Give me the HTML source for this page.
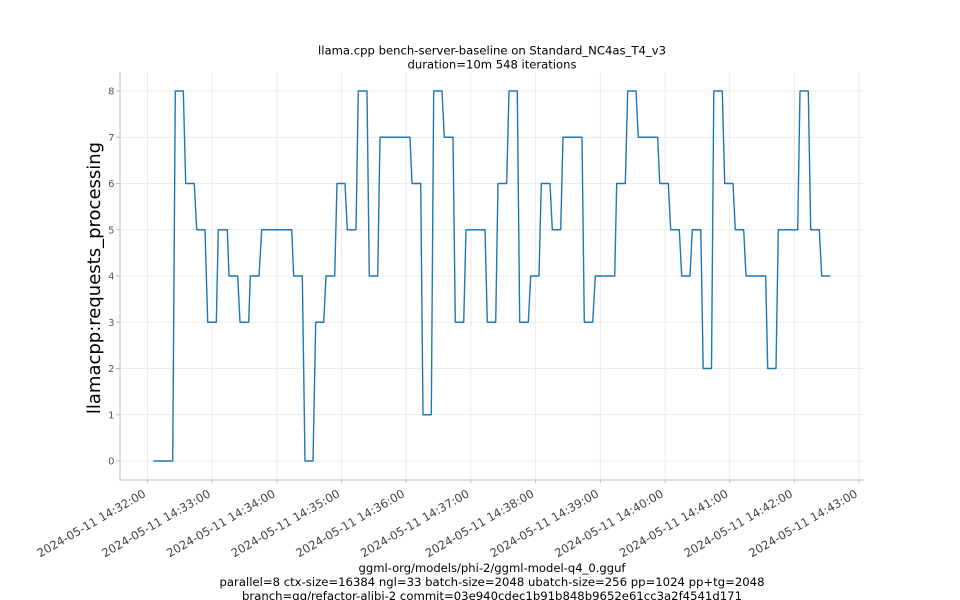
<!DOCTYPE html>
<html>
<head>
<meta charset="utf-8">
<style>
  html, body { margin: 0; padding: 0; background: #ffffff; }
  body { width: 960px; height: 600px; overflow: hidden; }
  svg { display: block; }
  text { font-family: "DejaVu Sans", "Liberation Sans", sans-serif; }
</style>
</head>
<body>
<svg width="960" height="600" viewBox="0 0 960 600" xmlns="http://www.w3.org/2000/svg">
  <rect x="0" y="0" width="960" height="600" fill="#ffffff"/>

  <!-- Title -->
  <text x="492" y="54.5" font-size="11.6" text-anchor="middle" fill="#000" textLength="348" lengthAdjust="spacingAndGlyphs">llama.cpp bench-server-baseline on Standard_NC4as_T4_v3</text>
  <text x="492" y="68.5" font-size="11.6" text-anchor="middle" fill="#000" textLength="169" lengthAdjust="spacingAndGlyphs">duration=10m 548 iterations</text>

  <!-- Horizontal grid -->
  <g stroke="#e6e6e6" stroke-width="0.8">
    <line x1="120" y1="461" x2="864" y2="461"/>
    <line x1="120" y1="414.75" x2="864" y2="414.75"/>
    <line x1="120" y1="368.5" x2="864" y2="368.5"/>
    <line x1="120" y1="322.25" x2="864" y2="322.25"/>
    <line x1="120" y1="276" x2="864" y2="276"/>
    <line x1="120" y1="229.75" x2="864" y2="229.75"/>
    <line x1="120" y1="183.5" x2="864" y2="183.5"/>
    <line x1="120" y1="137.25" x2="864" y2="137.25"/>
    <line x1="120" y1="91" x2="864" y2="91"/>
  </g>
  <!-- Vertical grid -->
  <g stroke="#e6e6e6" stroke-width="0.8">
    <line x1="147.4" y1="72" x2="147.4" y2="480"/>
    <line x1="212.1" y1="72" x2="212.1" y2="480"/>
    <line x1="276.8" y1="72" x2="276.8" y2="480"/>
    <line x1="341.5" y1="72" x2="341.5" y2="480"/>
    <line x1="406.2" y1="72" x2="406.2" y2="480"/>
    <line x1="470.9" y1="72" x2="470.9" y2="480"/>
    <line x1="535.6" y1="72" x2="535.6" y2="480"/>
    <line x1="600.3" y1="72" x2="600.3" y2="480"/>
    <line x1="665.0" y1="72" x2="665.0" y2="480"/>
    <line x1="729.7" y1="72" x2="729.7" y2="480"/>
    <line x1="794.4" y1="72" x2="794.4" y2="480"/>
    <line x1="859.1" y1="72" x2="859.1" y2="480"/>
  </g>

  <!-- Spines -->
  <g stroke="#bdbdbd" stroke-width="1">
    <line x1="120" y1="72" x2="120" y2="480.5"/>
    <line x1="119.5" y1="480" x2="864" y2="480"/>
  </g>

  <!-- Y ticks -->
  <g stroke="#bdbdbd" stroke-width="1">
    <line x1="116" y1="461" x2="120" y2="461"/>
    <line x1="116" y1="414.75" x2="120" y2="414.75"/>
    <line x1="116" y1="368.5" x2="120" y2="368.5"/>
    <line x1="116" y1="322.25" x2="120" y2="322.25"/>
    <line x1="116" y1="276" x2="120" y2="276"/>
    <line x1="116" y1="229.75" x2="120" y2="229.75"/>
    <line x1="116" y1="183.5" x2="120" y2="183.5"/>
    <line x1="116" y1="137.25" x2="120" y2="137.25"/>
    <line x1="116" y1="91" x2="120" y2="91"/>
  </g>
  <g font-size="10" fill="#555" text-anchor="end">
    <text x="114.5" y="464.6">0</text>
    <text x="114.5" y="418.35">1</text>
    <text x="114.5" y="372.1">2</text>
    <text x="114.5" y="325.85">3</text>
    <text x="114.5" y="279.6">4</text>
    <text x="114.5" y="233.35">5</text>
    <text x="114.5" y="187.1">6</text>
    <text x="114.5" y="140.85">7</text>
    <text x="114.5" y="94.6">8</text>
  </g>

  <!-- X ticks -->
  <g stroke="#bdbdbd" stroke-width="1">
    <line x1="147.4" y1="480" x2="147.4" y2="483"/>
    <line x1="212.1" y1="480" x2="212.1" y2="483"/>
    <line x1="276.8" y1="480" x2="276.8" y2="483"/>
    <line x1="341.5" y1="480" x2="341.5" y2="483"/>
    <line x1="406.2" y1="480" x2="406.2" y2="483"/>
    <line x1="470.9" y1="480" x2="470.9" y2="483"/>
    <line x1="535.6" y1="480" x2="535.6" y2="483"/>
    <line x1="600.3" y1="480" x2="600.3" y2="483"/>
    <line x1="665.0" y1="480" x2="665.0" y2="483"/>
    <line x1="729.7" y1="480" x2="729.7" y2="483"/>
    <line x1="794.4" y1="480" x2="794.4" y2="483"/>
    <line x1="859.1" y1="480" x2="859.1" y2="483"/>
  </g>
  <g font-size="11.6" fill="#444" text-anchor="end">
    <text x="146.7" y="496" transform="rotate(-30 146.7 496)">2024-05-11 14:32:00</text>
    <text x="211.4" y="496" transform="rotate(-30 211.4 496)">2024-05-11 14:33:00</text>
    <text x="276.1" y="496" transform="rotate(-30 276.1 496)">2024-05-11 14:34:00</text>
    <text x="340.8" y="496" transform="rotate(-30 340.8 496)">2024-05-11 14:35:00</text>
    <text x="405.5" y="496" transform="rotate(-30 405.5 496)">2024-05-11 14:36:00</text>
    <text x="470.2" y="496" transform="rotate(-30 470.2 496)">2024-05-11 14:37:00</text>
    <text x="534.9" y="496" transform="rotate(-30 534.9 496)">2024-05-11 14:38:00</text>
    <text x="599.6" y="496" transform="rotate(-30 599.6 496)">2024-05-11 14:39:00</text>
    <text x="664.3" y="496" transform="rotate(-30 664.3 496)">2024-05-11 14:40:00</text>
    <text x="729.0" y="496" transform="rotate(-30 729.0 496)">2024-05-11 14:41:00</text>
    <text x="793.7" y="496" transform="rotate(-30 793.7 496)">2024-05-11 14:42:00</text>
    <text x="858.4" y="496" transform="rotate(-30 858.4 496)">2024-05-11 14:43:00</text>
  </g>

  <!-- Y label -->
  <text x="100" y="278" font-size="18" fill="#000" text-anchor="middle" transform="rotate(-90 100 278)">llamacpp:requests_processing</text>

  <!-- Data line -->
  <polyline fill="none" stroke="#1f77b4" stroke-width="1.4" stroke-linejoin="round" points="
    153.3,461 172.7,461 175.3,91 183.3,91 185.7,183.5 194.3,183.5 196.7,229.75 205,229.75
    207.7,322.25 216.3,322.25 218.3,229.75 227.3,229.75 229,276 237.7,276 240,322.25 248.7,322.25
    250.3,276 259,276 261.7,229.75 291.7,229.75 293.7,276 302.3,276 305,461 313,461
    315.7,322.25 323.7,322.25 326,276 334.7,276 337,183.5 345,183.5 347.3,229.75 356,229.75
    358.3,91 367,91 369.3,276 377.7,276 380,137.25 410,137.25 412,183.5 420.7,183.5
    423,414.75 431.3,414.75 433.7,91 442,91 444.3,137.25 453,137.25 455.3,322.25 463.7,322.25
    466,229.75 485,229.75 487.3,322.25 495.7,322.25 498,183.5 506.7,183.5 509,91 517.3,91
    519.7,322.25 528.3,322.25 530.7,276 539,276 541.3,183.5 550,183.5 552.3,229.75 560.7,229.75
    563,137.25 582,137.25 584.3,322.25 592.7,322.25 595.3,276 614.7,276 616.7,183.5 625.3,183.5
    627.7,91 636,91 638.3,137.25 657.7,137.25 659.7,183.5 668.3,183.5 670.7,229.75 679.3,229.75
    681.7,276 690,276 692.3,229.75 700.8,229.75 703.2,368.5 711.5,368.5 713.8,91 722.3,91
    724.7,183.5 733,183.5 735.3,229.75 743.7,229.75 746,276 765.7,276 767.7,368.5 776,368.5
    778.3,229.75 797.7,229.75 800,91 808.3,91 810.7,229.75 819.3,229.75 821.7,276 830.3,276"/>

  <!-- Bottom annotation -->
  <text x="492" y="572.2" font-size="11.6" text-anchor="middle" fill="#000" textLength="267" lengthAdjust="spacingAndGlyphs">ggml-org/models/phi-2/ggml-model-q4_0.gguf</text>
  <text x="492" y="586.1" font-size="11.6" text-anchor="middle" fill="#000" textLength="545" lengthAdjust="spacingAndGlyphs">parallel=8 ctx-size=16384 ngl=33 batch-size=2048 ubatch-size=256 pp=1024 pp+tg=2048</text>
  <text x="492" y="600" font-size="11.6" text-anchor="middle" fill="#000" textLength="500" lengthAdjust="spacingAndGlyphs">branch=gg/refactor-alibi-2 commit=03e940cdec1b91b848b9652e61cc3a2f4541d171</text>
</svg>
</body>
</html>
